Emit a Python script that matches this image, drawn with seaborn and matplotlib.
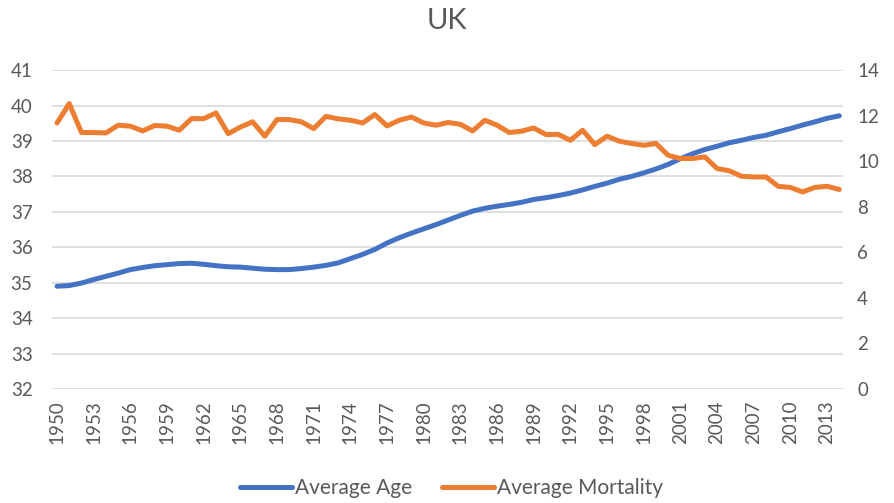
import pandas as pd
import seaborn as sns
import matplotlib.pyplot as plt
from matplotlib.lines import Line2D

# =========================
# 1. Data
# =========================
years = list(range(1950, 2015))

average_age = [
    34.90, 34.92, 34.99, 35.09, 35.18, 35.27, 35.37, 35.43, 35.48, 35.51,
    35.54, 35.55, 35.52, 35.48, 35.45, 35.44, 35.41, 35.38, 35.37, 35.37,
    35.40, 35.44, 35.49, 35.56, 35.68, 35.80, 35.94, 36.12, 36.27, 36.40,
    36.52, 36.64, 36.77, 36.90, 37.02, 37.10, 37.16, 37.21, 37.27, 37.35,
    37.40, 37.46, 37.53, 37.62, 37.72, 37.81, 37.92, 38.00, 38.10, 38.21,
    38.34, 38.50, 38.64, 38.76, 38.85, 38.95, 39.02, 39.10, 39.16, 39.26,
    39.35, 39.45, 39.54, 39.64, 39.71,
]

average_mortality = [
    11.68, 12.53, 11.26, 11.26, 11.24, 11.58, 11.54, 11.33, 11.57, 11.54,
    11.36, 11.87, 11.87, 12.12, 11.21, 11.50, 11.73, 11.10, 11.83, 11.83,
    11.73, 11.43, 11.97, 11.86, 11.80, 11.68, 12.05, 11.55, 11.80, 11.94,
    11.68, 11.58, 11.70, 11.62, 11.33, 11.80, 11.58, 11.26, 11.32, 11.46,
    11.17, 11.18, 10.92, 11.36, 10.73, 11.10, 10.88, 10.78, 10.70, 10.78,
    10.26, 10.12, 10.12, 10.19, 9.68, 9.58, 9.34, 9.31, 9.31, 8.90,
    8.85, 8.65, 8.85, 8.90, 8.76,
]

df = pd.DataFrame({"year": years, "age": average_age, "mortality": average_mortality})

age_ticks = list(range(32, 42))
mortality_ticks = list(range(0, 16, 2))
year_ticks = list(range(1950, 2014, 3))

# =========================
# 2. Style
# =========================
sns.set_theme(style="white")
plt.rcParams["font.family"] = ["Lato", "DejaVu Sans"]

blue = "#4472C4"
orange = "#ED7D31"
text_grey = "#595959"
grid_grey = "#D9D9D9"

# =========================
# 3. Figure
# =========================
fig = plt.figure(figsize=(8.94, 5.03), dpi=100)
ax = fig.add_axes([0.0582, 0.2266, 0.885, 0.634])
ax2 = ax.twinx()

sns.lineplot(data=df, x="year", y="age", ax=ax, color=blue, linewidth=3.6)
sns.lineplot(data=df, x="year", y="mortality", ax=ax2, color=orange, linewidth=3.6)

ax.set_xlim(1949.59, 2014.32)
ax.set_ylim(32, 41)
ax2.set_ylim(0, 14)

ax.set_yticks(age_ticks)
ax2.set_yticks(mortality_ticks)
ax.set_xticks(year_ticks)
ax.set_xticklabels([str(y) for y in year_ticks], rotation=90)

ax.yaxis.grid(True, color=grid_grey, linewidth=1.2)
ax.set_axisbelow(True)
ax2.grid(False)

for a in (ax, ax2):
    for s in a.spines.values():
        s.set_visible(False)
    a.set_xlabel("")
    a.set_ylabel("")

ax.tick_params(axis="y", length=0, pad=14, labelsize=13.5, labelcolor=text_grey)
ax.tick_params(axis="x", length=0, pad=8, labelsize=13.5, labelcolor=text_grey)
ax2.tick_params(axis="y", length=0, pad=10, labelsize=13.5, labelcolor=text_grey)

fig.suptitle("UK", x=0.5, y=0.985, fontsize=21, color=text_grey)

handles = [Line2D([], [], color=blue, linewidth=3.6),
           Line2D([], [], color=orange, linewidth=3.6)]
fig.legend(handles, ["Average Age", "Average Mortality"], loc="center",
           bbox_to_anchor=(0.505, 0.03), ncol=2, frameon=False,
           fontsize=15, labelcolor=text_grey, handlelength=2.5,
           handletextpad=0.15, columnspacing=1.45)

plt.savefig("out.png", dpi=100)
